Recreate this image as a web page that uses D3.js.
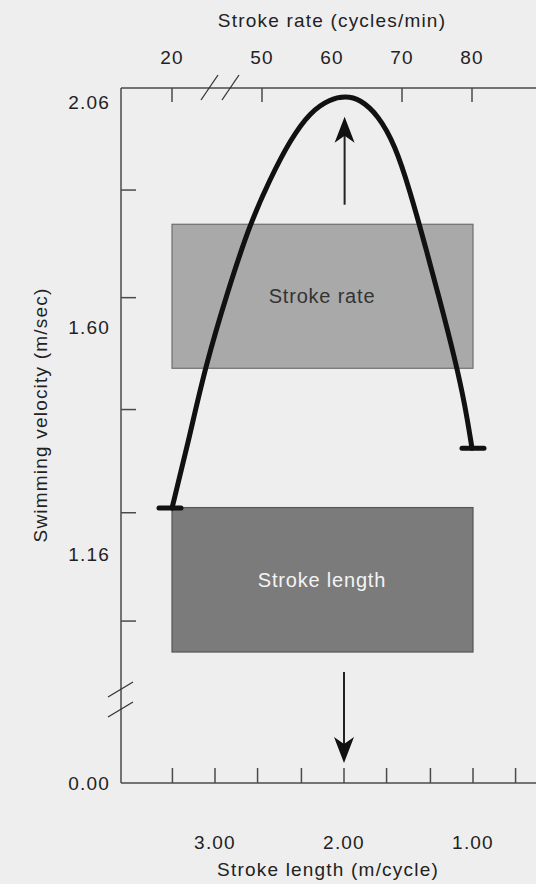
<!DOCTYPE html>
<html>
<head>
<meta charset="utf-8">
<script src="https://cdn.jsdelivr.net/npm/d3@7"></script>
<style>
  body { margin: 0; background: #eeeeee; }
  svg { display: block; }
  text { font-family: "Liberation Sans", Arial, Helvetica, sans-serif; fill: #222; letter-spacing: 1.2px; }
</style>
</head>
<body>
<div id="chart"></div>
<script>
// stroke rate axis (top)
const rateLabels = [20, 50, 60, 70, 80];
const rateTicks = [20, 50, 70, 80];
// stroke length axis (bottom)
const lengthLabels = [3.00, 2.00, 1.00];
const lengthTicks = [3.33, 3.00, 2.67, 2.33, 2.00, 1.67, 1.33, 1.00, 0.67];
// velocity axis (left)
const velocityLabels = [2.06, 1.60, 1.16];
const velocityTicks = [1.88, 1.66, 1.44, 1.24, 1.03];

// velocity vs stroke rate curve
const curveRate = [20, 26, 31, 38.7, 46, 51.1, 54, 56.9, 59.7, 61.9, 64, 66.6, 69, 71.1, 73.3, 75.4, 77.6, 79, 80];
const curveVel = [1.249, 1.391, 1.521, 1.676, 1.811, 1.901, 1.982, 2.040, 2.066, 2.072, 2.066, 2.033, 1.972, 1.880, 1.767, 1.655, 1.536, 1.449, 1.365];

// shaded boxes
const boxes = [
    {name: "Stroke rate", r0: 20, r1: 80, v0: 1.52, v1: 1.81, fill: "#a9a9a9", stroke: "#6f6f6f", text: "#333"},
    {name: "Stroke length", r0: 20, r1: 80, v0: 0.97, v1: 1.25, fill: "#7b7b7b", stroke: "#555", text: "#f4f4f4"}
];

const W = 536, H = 884;
const frame = {left: 121, top: 88, bottom: 783, right: 536};

const svg = d3.select("#chart").append("svg")
    .attr("width", W)
    .attr("height", H);

// scales (top axis broken between 20 and 50)
const xRate = d3.scaleLinear().domain([20, 50, 80]).range([172, 262, 472]);
const xLen = d3.scaleLinear().domain([1, 3]).range([473, 215]);
const yVel = d3.scaleLinear().domain([1.16, 1.60, 2.06]).range([554, 327, 102]);

const axisColor = "#4a4a4a";

// boxes
boxes.forEach(b => {
    svg.append("rect")
        .attr("x", xRate(b.r0))
        .attr("y", yVel(b.v1))
        .attr("width", xRate(b.r1) - xRate(b.r0) + 1)
        .attr("height", yVel(b.v0) - yVel(b.v1))
        .attr("fill", b.fill)
        .attr("stroke", b.stroke)
        .attr("stroke-width", 1.2);
    svg.append("text")
        .attr("x", (xRate(b.r0) + xRate(b.r1)) / 2)
        .attr("y", (yVel(b.v0) + yVel(b.v1)) / 2)
        .attr("dy", "0.35em")
        .attr("text-anchor", "middle")
        .attr("font-size", 20)
        .style("letter-spacing", "0.8px")
        .style("fill", b.text)
        .text(b.name);
});

// frame lines
svg.append("line")
    .attr("x1", frame.left).attr("x2", frame.right)
    .attr("y1", frame.top).attr("y2", frame.top)
    .attr("stroke", axisColor).attr("stroke-width", 1.5);
svg.append("line")
    .attr("x1", frame.left).attr("x2", frame.right)
    .attr("y1", frame.bottom).attr("y2", frame.bottom)
    .attr("stroke", axisColor).attr("stroke-width", 1.5);
svg.append("line")
    .attr("x1", frame.left).attr("x2", frame.left)
    .attr("y1", frame.top).attr("y2", frame.bottom)
    .attr("stroke", axisColor).attr("stroke-width", 1.5);

// top axis ticks + labels
svg.selectAll(".rtick").data(rateTicks).enter().append("line")
    .attr("x1", d => xRate(d)).attr("x2", d => xRate(d))
    .attr("y1", frame.top).attr("y2", frame.top + 14)
    .attr("stroke", axisColor).attr("stroke-width", 1.5);
svg.selectAll(".rlab").data(rateLabels).enter().append("text")
    .attr("x", d => xRate(d))
    .attr("y", 57).attr("dy", "0.35em")
    .attr("text-anchor", "middle")
    .attr("font-size", 19)
    .text(d => d);
svg.append("text")
    .attr("x", 332).attr("y", 20).attr("dy", "0.35em")
    .attr("text-anchor", "middle")
    .attr("font-size", 19)
    .text("Stroke rate (cycles/min)");

// break marks on top axis
[205, 226].forEach(x => {
    svg.append("line")
        .attr("x1", x - 4).attr("y1", 100)
        .attr("x2", x + 13).attr("y2", 75)
        .attr("stroke", "#333").attr("stroke-width", 1.3);
});

// bottom axis ticks + labels
svg.selectAll(".ltick").data(lengthTicks).enter().append("line")
    .attr("x1", d => xLen(d)).attr("x2", d => xLen(d))
    .attr("y1", frame.bottom).attr("y2", frame.bottom - 15)
    .attr("stroke", axisColor).attr("stroke-width", 1.5);
svg.selectAll(".llab").data(lengthLabels).enter().append("text")
    .attr("x", d => xLen(d))
    .attr("y", 842).attr("dy", "0.35em")
    .attr("text-anchor", "middle")
    .attr("font-size", 19)
    .text(d => d.toFixed(2));
svg.append("text")
    .attr("x", 328).attr("y", 869).attr("dy", "0.35em")
    .attr("text-anchor", "middle")
    .attr("font-size", 19)
    .text("Stroke length (m/cycle)");

// left axis ticks + labels
svg.selectAll(".vtick").data(velocityTicks).enter().append("line")
    .attr("x1", frame.left).attr("x2", frame.left + 15)
    .attr("y1", d => yVel(d)).attr("y2", d => yVel(d))
    .attr("stroke", axisColor).attr("stroke-width", 1.5);
svg.selectAll(".vlab").data(velocityLabels).enter().append("text")
    .attr("x", 110)
    .attr("y", d => yVel(d)).attr("dy", "0.35em")
    .attr("text-anchor", "end")
    .attr("font-size", 19)
    .text(d => d.toFixed(2));
svg.append("text")
    .attr("x", 110).attr("y", frame.bottom).attr("dy", "0.35em")
    .attr("text-anchor", "end")
    .attr("font-size", 19)
    .text("0.00");
svg.append("text")
    .attr("transform", "translate(40,415) rotate(-90)")
    .attr("dy", "0.35em")
    .attr("text-anchor", "middle")
    .attr("font-size", 19)
    .text("Swimming velocity (m/sec)");

// break marks on left axis
[689, 709].forEach(y => {
    svg.append("line")
        .attr("x1", 108).attr("y1", y + 8)
        .attr("x2", 133).attr("y2", y - 7)
        .attr("stroke", "#333").attr("stroke-width", 1.3);
});

// arrows
function arrow(x, y0, y1) {
    const dir = y1 < y0 ? 1 : -1; // 1 = pointing up
    svg.append("line")
        .attr("x1", x).attr("x2", x)
        .attr("y1", y0).attr("y2", y1 + dir * 15)
        .attr("stroke", "#222").attr("stroke-width", 2);
    svg.append("path")
        .attr("d", "M" + x + "," + y1 +
            "L" + (x - 10) + "," + (y1 + dir * 26) +
            "L" + x + "," + (y1 + dir * 19) +
            "L" + (x + 10) + "," + (y1 + dir * 26) + "Z")
        .attr("fill", "#111");
}
arrow(xRate(61.8), yVel(1.85), yVel(2.03));
arrow(xLen(2.00), 672, 763);

// velocity curve
const pts = curveRate.map((r, i) => [xRate(r), yVel(curveVel[i])]);
svg.append("path")
    .attr("d", d3.line().curve(d3.curveBasis)(pts))
    .attr("fill", "none")
    .attr("stroke", "#111")
    .attr("stroke-width", 5)
    .attr("stroke-linecap", "round");

// end caps
[pts[0], pts[pts.length - 1]].forEach((p, i) => {
    const cx = i === 0 ? p[0] - 2 : p[0] + 1;
    svg.append("line")
        .attr("x1", cx - 11).attr("x2", cx + 11)
        .attr("y1", p[1]).attr("y2", p[1])
        .attr("stroke", "#111")
        .attr("stroke-width", 5)
        .attr("stroke-linecap", "round");
});
</script>
</body>
</html>
